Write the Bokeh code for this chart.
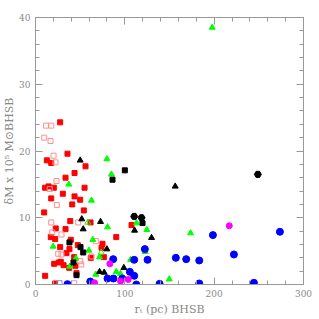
from bokeh.plotting import figure
from bokeh.models import LinearAxis, FixedTicker, Range1d
from bokeh.embed import file_html
from bokeh.resources import INLINE

# ---- data (r_t in pc, dM in 1e5 Msun) ----
red_x = [27.6, 35.8, 12.7, 17.6, 56.0, 43.7, 33.6, 10.8, 14.6, 20.5, 54.9, 30.6, 43.7, 17.6, 50.0,
         41.1, 54.1, 9.7, 38.9, 61.6, 107.5, 22.7, 33.6, 17.1, 22.0, 90.4, 39.5, 75.0, 47.4, 27.6,
         73.9, 38.0, 34.7, 43.3, 61.9, 76.5, 28.3, 26.1, 20.9, 31.4, 44.8, 37.7, 45.9, 10.8, 22.0]
red_y = [24.3, 19.6, 18.6, 18.2, 17.7, 16.7, 16.0, 14.5, 14.7, 14.5, 14.5, 13.6, 13.2, 12.9, 12.7,
         12.0, 11.1, 10.8, 9.5, 9.3, 8.9, 8.4, 8.3, 7.1, 6.8, 7.1, 6.7, 6.1, 5.9, 5.6,
         5.5, 5.3, 4.7, 4.1, 4.0, 4.1, 3.4, 3.3, 3.1, 2.9, 2.8, 2.5, 1.7, 1.3, 0.15]

pink_x = [11.8, 17.6, 9.7, 16.8, 20.2, 22.4, 23.5, 16.0, 23.9, 17.6, 47.8, 18.7, 29.1, 67.5,
          25.4, 29.1, 62.7, 50.0, 51.2]
pink_y = [23.8, 23.8, 22.0, 21.5, 19.3, 18.3, 15.5, 14.3, 11.9, 9.3, 9.3, 7.8, 7.5, 6.5,
          4.6, 4.5, 4.2, 3.5, 3.0]

green_x = [197.8, 79.9, 85.0, 37.3, 62.7, 113.1, 80.6, 124.6, 173.6, 64.2, 19.8, 59.7, 122.8,
           71.7, 45.1, 106.4, 38.4, 90.4, 67.5, 95.2, 149.7]
green_y = [38.5, 18.8, 16.5, 15.0, 12.6, 9.2, 8.6, 8.2, 7.7, 6.7, 5.7, 5.1, 4.9,
           4.1, 3.9, 3.7, 2.7, 1.9, 1.5, 1.6, 0.8]

green_open_x = [58.5, 73.6]
green_open_y = [9.3, 4.8]

btri_x = [50.0, 156.4, 51.8, 72.8, 53.4, 110.9, 129.9, 79.9, 98.9, 71.7, 76.9]
btri_y = [18.6, 14.7, 9.8, 9.4, 8.3, 8.1, 7.0, 5.3, 2.5, 1.9, 1.8]

bsq_x = [100.0, 86.2, 119.8, 38.0, 50.4, 53.4, 42.5, 45.9]
bsq_y = [17.1, 15.7, 9.2, 6.3, 5.6, 4.8, 3.3, 1.4]

bcirc_x = [110.5, 118.7, 248.9]
bcirc_y = [10.2, 10.0, 16.5]

blue_x = [87.0, 125.4, 122.4, 110.5, 105.6, 110.5, 87.3, 80.6, 97.1, 61.3, 35.8, 112.8, 138.9,
          157.1, 168.7, 183.3, 198.6, 222.1, 273.6, 183.3, 244.5]
blue_y = [3.8, 3.7, 5.3, 3.7, 1.9, 1.3, 0.9, 0.9, 0.9, 0.45, 0.05, 0.0, 0.1,
          4.0, 3.8, 3.6, 7.4, 4.5, 7.9, 0.15, 0.25]

mag_x = [83.2, 103.8, 95.2, 66.1, 216.9]
mag_y = [3.1, 0.75, 0.5, 0.25, 8.8]

blue_open_x = [26.9]
blue_open_y = [0.2]
mag_open_x = [43.3]
mag_open_y = [0.2]

x_major = [0, 100, 200, 300]
x_minor = list(range(0, 301, 20))
y_major = [0, 10, 20, 30, 40]
y_minor = list(range(0, 41, 2))

x_label = "r\u209c (pc) BHSB"
y_label = "\u03b4M x 10\u2075 M\u2299BHSB"

# ---- figure ----
p = figure(frame_width=268, frame_height=267, output_backend="svg", toolbar_location=None,
           x_range=Range1d(0, 300), y_range=Range1d(0, 40),
           min_border_left=0, min_border_right=17, min_border_top=17, min_border_bottom=0)
p.grid.visible = False
p.outline_line_color = "#999999"
p.background_fill_color = "white"
p.border_fill_color = "white"

AX = "#999999"
TXT = "#888888"
FONT = "DejaVu Serif"


def style(ax, ticker, labels=True):
    ax.ticker = ticker
    ax.axis_line_color = AX
    ax.major_tick_line_color = AX
    ax.minor_tick_line_color = AX
    ax.major_tick_in = 7
    ax.major_tick_out = 0
    ax.minor_tick_in = 4
    ax.minor_tick_out = 0
    ax.major_label_text_font = FONT
    ax.major_label_text_font_size = "9px"
    ax.major_label_text_color = TXT
    ax.axis_label_text_font = FONT
    ax.axis_label_text_font_size = "11px"
    ax.axis_label_text_font_style = "normal"
    ax.axis_label_text_color = TXT
    if not labels:
        ax.major_label_text_font_size = "0px"
        ax.major_label_text_color = None
        ax.major_label_standoff = 0


xt = FixedTicker(ticks=x_major, minor_ticks=x_minor)
yt = FixedTicker(ticks=y_major, minor_ticks=y_minor)

bottom = p.xaxis[0]
left = p.yaxis[0]
top = LinearAxis()
right = LinearAxis()
p.add_layout(top, "above")
p.add_layout(right, "right")

style(bottom, xt, True)
style(top, xt, False)
style(left, yt, True)
style(right, yt, False)

bottom.axis_label = x_label
left.axis_label = y_label
bottom.major_label_standoff = 5
left.major_label_standoff = 5
bottom.axis_label_standoff = 3
left.axis_label_standoff = 0

# ---- markers ----
p.scatter(red_x, red_y, marker="square", size=5, fill_color="#ff0000", line_color="#ff0000")
p.scatter(pink_x, pink_y, marker="square", size=5, fill_color=None, line_color="#ff8f8f", line_width=1)
p.scatter(green_x, green_y, marker="triangle", size=6, fill_color="#00ff00", line_color="#00ff00")
p.scatter(green_open_x, green_open_y, marker="triangle", size=6, fill_color=None, line_color="#00ff00")
p.scatter(btri_x, btri_y, marker="triangle", size=6, fill_color="black", line_color="black")
p.scatter(bsq_x, bsq_y, marker="square", size=5, fill_color="black", line_color="black")
p.scatter(bcirc_x, bcirc_y, marker="hex", size=7, fill_color="black", line_color="black")
p.scatter(blue_x, blue_y, marker="circle", size=7, fill_color="#0000ff", line_color="#0000ff")
p.scatter(mag_x, mag_y, marker="circle", size=6, fill_color="#ff00ff", line_color="#ff00ff")
p.scatter(blue_open_x, blue_open_y, marker="square", size=5, fill_color=None, line_color="#8888ff")
p.scatter(mag_open_x, mag_open_y, marker="square", size=5, fill_color=None, line_color="#ff88ff")

open("out.html", "w").write(file_html(p, INLINE))
